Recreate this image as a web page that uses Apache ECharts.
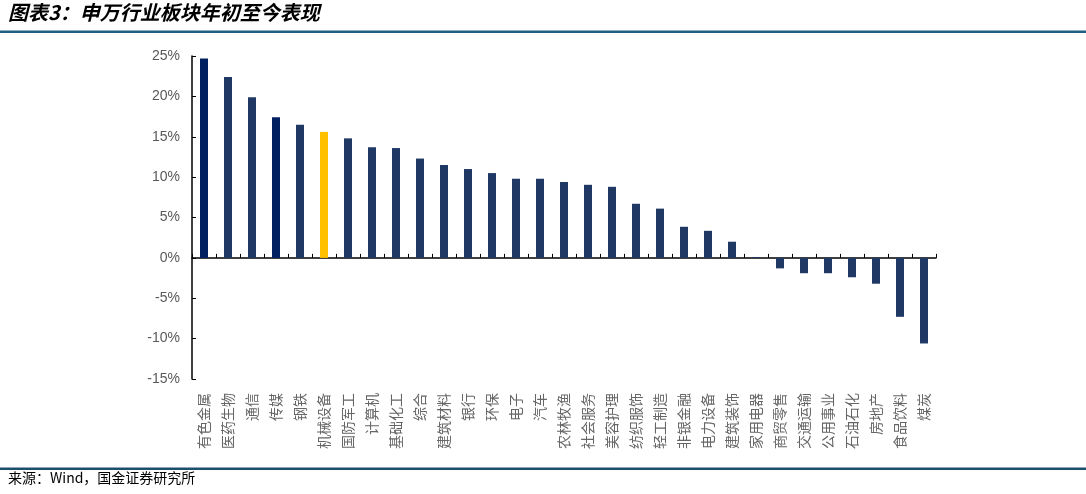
<!DOCTYPE html>
<html>
<head>
<meta charset="utf-8">
<script src="https://cdn.jsdelivr.net/npm/echarts@6/dist/echarts.min.js"></script>
<style>
html,body{margin:0;padding:0;background:#fff;}
#c{width:1086px;height:494px;}
</style>
</head>
<body>
<div id="c"></div>
<script>
const categories = ['有色金属','医药生物','通信','传媒','钢铁','机械设备','国防军工','计算机','基础化工','综合','建筑材料','银行','环保','电子','汽车','农林牧渔','社会服务','美容护理','纺织服饰','轻工制造','非银金融','电力设备','建筑装饰','家用电器','商贸零售','交通运输','公用事业','石油石化','房地产','食品饮料','煤炭'];
const values = [24.7,22.4,19.9,17.4,16.5,15.6,14.8,13.7,13.6,12.3,11.5,11.0,10.5,9.8,9.8,9.4,9.05,8.8,6.7,6.1,3.85,3.35,2.0,0.1,-1.3,-1.9,-1.9,-2.4,-3.2,-7.3,-10.6];
const darkIdx = [0,3];
const highlightIdx = [5];
const yTicks = {min:-15, max:25, interval:5};

const chart = echarts.init(document.getElementById('c'), null, {renderer:'canvas'});
const data = values.map((v,i)=>({
  value:v,
  itemStyle:{color: highlightIdx.includes(i) ? '#FFC000' : (darkIdx.includes(i) ? '#002060' : '#1F3864')}
}));
const cjk = '"Noto Sans CJK SC", sans-serif';
chart.setOption({
  animation:false,
  backgroundColor:'#fff',
  grid:{left:192,right:150,top:56,bottom:115},
  xAxis:[{
    type:'category', data:categories, position:'bottom',
    axisLine:{onZero:true, lineStyle:{color:'#000',width:1.5}},
    axisTick:{show:true, inside:true, length:4, interval:0, lineStyle:{color:'#000'}},
    axisLabel:{show:false}
  },{
    type:'category', data:categories, position:'bottom',
    axisLine:{show:false, onZero:false}, axisTick:{show:false},
    axisLabel:{interval:0, rotate:90, margin:14, color:'#666666', fontSize:14, fontFamily:cjk}
  }],
  yAxis:{
    type:'value', min:yTicks.min, max:yTicks.max, interval:yTicks.interval,
    axisLine:{show:true, lineStyle:{color:'#000',width:1.5}},
    axisTick:{show:true, inside:true, length:4, lineStyle:{color:'#000'}},
    splitLine:{show:false},
    axisLabel:{formatter:v=>v+'%', color:'#595959', fontSize:14, fontFamily:'"Liberation Sans", Arial, sans-serif', margin:12}
  },
  series:[{type:'bar', xAxisIndex:0, data:data, barWidth:8}],
  graphic:[
    {type:'text', left:8, top:2, style:{text:'图表3：申万行业板块年初至今表现', font:'italic bold 20px "Noto Sans CJK SC", sans-serif', fill:'#000'}},
    {type:'rect', shape:{x:0,y:30.5,width:1086,height:2.5}, style:{fill:'#1F5F80'}},
    {type:'rect', shape:{x:0,y:467.5,width:1086,height:2.5}, style:{fill:'#1B4F6E'}},
    {type:'text', left:8, top:471, style:{text:'来源：Wind，国金证券研究所', font:'14px "Noto Sans CJK SC", sans-serif', fill:'#000'}}
  ]
});
</script>
</body>
</html>
